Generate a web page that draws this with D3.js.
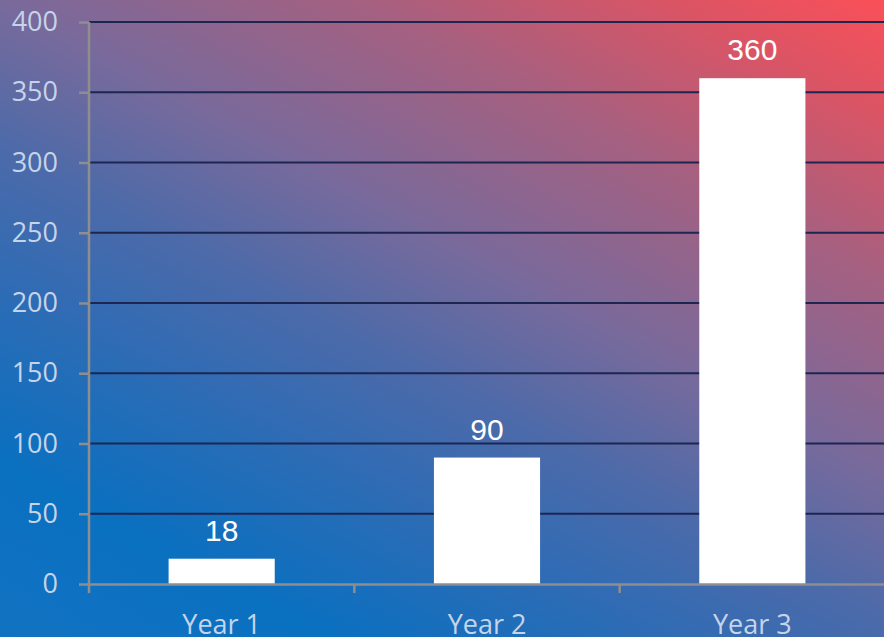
<!DOCTYPE html>
<html>
<head>
<meta charset="utf-8">
<script src="https://cdn.jsdelivr.net/npm/d3@7"></script>
<style>
  html, body { margin: 0; padding: 0; overflow: hidden; }
  svg { display: block; }
</style>
</head>
<body>
<div id="chart"></div>
<script>
'use strict';

var categories = ["Year 1", "Year 2", "Year 3"];
var values = [18, 90, 360];
var yTicks = [0, 50, 100, 150, 200, 250, 300, 350, 400];

var W = 884, H = 637;
var margin = { top: 22, right: -1, bottom: 53, left: 89 };

var svg = d3.select("#chart").append("svg")
  .attr("width", W)
  .attr("height", H);

// background gradient, blue bottom-left to red top-right
var defs = svg.append("defs");
var grad = defs.append("linearGradient")
  .attr("id", "bg")
  .attr("gradientUnits", "userSpaceOnUse")
  .attr("x1", 0).attr("y1", 637)
  .attr("x2", 462).attr("y2", -226);
[[0, "#1272c2"], [0.16, "#0a70c0"], [0.30, "#2a6cb6"], [0.44, "#4c6aaa"],
 [0.57, "#786a9c"], [0.75, "#a66080"], [0.90, "#dc5464"], [1, "#fa5058"]]
  .forEach(function(s) {
    grad.append("stop").attr("offset", s[0]).attr("stop-color", s[1]);
  });

svg.append("rect")
  .attr("width", W).attr("height", H)
  .attr("fill", "url(#bg)");

var x = d3.scaleBand()
  .domain(categories)
  .range([margin.left, W - margin.right])
  .padding(0);

var y = d3.scaleLinear()
  .domain([0, 400])
  .range([H - margin.bottom, margin.top]);

// gridlines
svg.append("g").selectAll("line")
  .data(yTicks.filter(function(d) { return d > 0; }))
  .enter().append("line")
  .attr("x1", margin.left).attr("x2", W)
  .attr("y1", function(d) { return y(d); })
  .attr("y2", function(d) { return y(d); })
  .attr("stroke", "#1c2650")
  .attr("stroke-width", 2);

// bars
var barW = x.bandwidth() * 0.4;
svg.append("g").selectAll("rect")
  .data(values)
  .enter().append("rect")
  .attr("x", function(d, i) { return x(categories[i]) + (x.bandwidth() - barW) / 2; })
  .attr("y", function(d) { return y(d); })
  .attr("width", barW)
  .attr("height", function(d) { return y(0) - y(d); })
  .attr("fill", "#ffffff");

// value labels
svg.append("g").selectAll("text")
  .data(values)
  .enter().append("text")
  .attr("x", function(d, i) { return x(categories[i]) + x.bandwidth() / 2; })
  .attr("y", function(d) { return y(d) - 18; })
  .attr("text-anchor", "middle")
  .attr("font-family", "Liberation Sans, Arial, sans-serif")
  .attr("font-size", 30)
  .attr("fill", "#ffffff")
  .text(function(d) { return d; });

var axisColor = "#8e8e8e";
var tickFont = "Open Sans, sans-serif";
var tickColor = "#c6d4ea";

// y axis
var yAxis = svg.append("g")
  .attr("transform", "translate(" + margin.left + ",0)")
  .call(d3.axisLeft(y).tickValues(yTicks).tickSize(10).tickPadding(21));
yAxis.select(".domain")
  .attr("d", "M0," + (y(400)) + "V" + (y(0) + 9))
  .attr("stroke", axisColor).attr("stroke-width", 2.5);
yAxis.selectAll(".tick line").attr("stroke", axisColor).attr("stroke-width", 2.5);
yAxis.selectAll(".tick text")
  .attr("font-family", tickFont)
  .attr("font-size", 27)
  .attr("fill", tickColor);

// x axis
var xAxis = svg.append("g")
  .attr("transform", "translate(0," + y(0) + ")")
  .call(d3.axisBottom(x).tickSize(0).tickPadding(0));
xAxis.select(".domain").attr("stroke", axisColor).attr("stroke-width", 2.5);
xAxis.selectAll(".tick text")
  .attr("font-family", tickFont)
  .attr("font-size", 27)
  .attr("fill", tickColor)
  .attr("dy", 0)
  .attr("y", 50);

// category separator ticks
xAxis.append("g").selectAll("line")
  .data(categories.slice(1))
  .enter().append("line")
  .attr("x1", function(d) { return x(d); })
  .attr("x2", function(d) { return x(d); })
  .attr("y1", 0).attr("y2", 9)
  .attr("stroke", axisColor).attr("stroke-width", 2.5);
</script>
</body>
</html>
